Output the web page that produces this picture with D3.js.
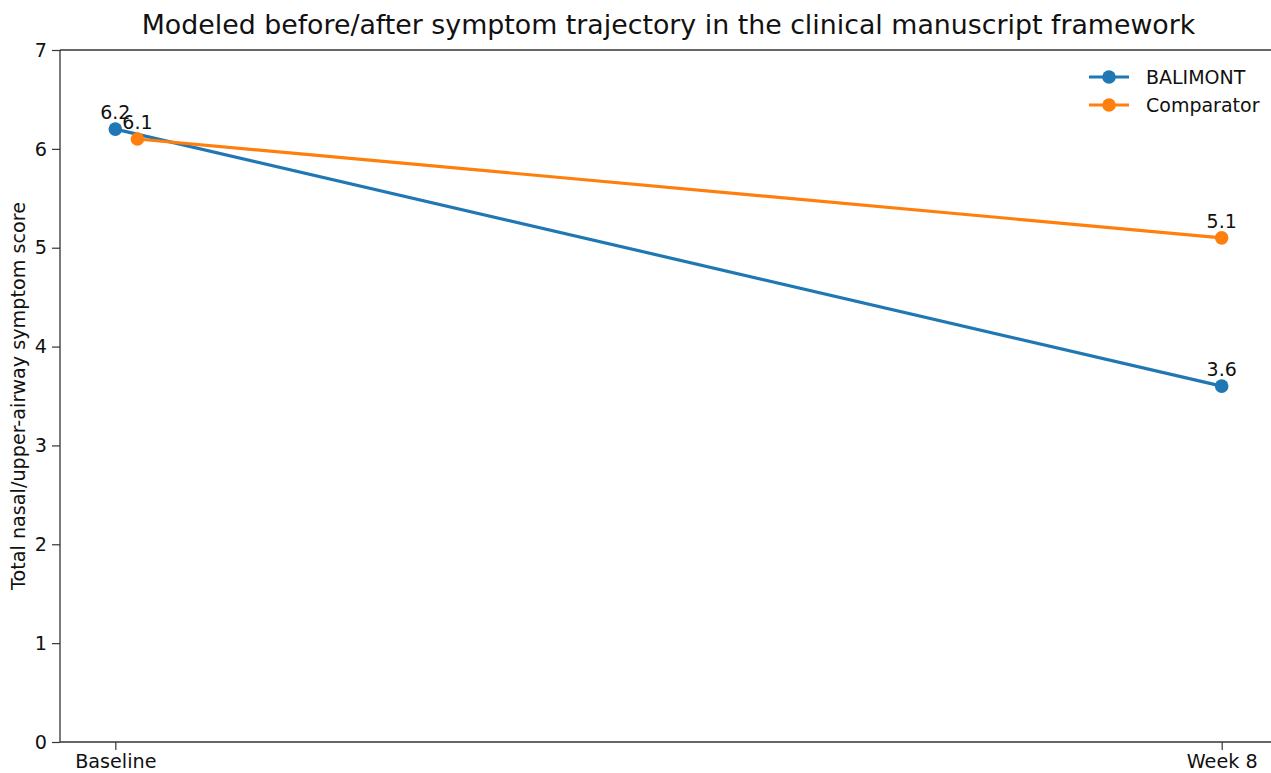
<!DOCTYPE html>
<html>
<head>
<meta charset="utf-8">
<script src="https://cdn.jsdelivr.net/npm/d3@7"></script>
<style>
  body { margin: 0; background: #fff; }
  svg { display: block; font-family: "DejaVu Sans", sans-serif; }
</style>
</head>
<body>
<div id="chart"></div>
<script>
// chart data
var categories = ['Baseline', 'Week 8'];
var seriesNames = ['BALIMONT', 'Comparator'];
var seriesColors = ['#1f77b4', '#ff7f0e'];
var balimontValues = [6.2, 3.6];
var comparatorValues = [6.1, 5.1];
// comparator baseline is nudged a little right so the dots do not overlap
var xOffsets = [[0, 0], [0.02, 0]];
var yTicks = [0, 1, 2, 3, 4, 5, 6, 7];

var W = 1271, H = 773;
var margin = { top: 50, right: -6, bottom: 31, left: 60 };
var width = W - margin.left - margin.right;
var height = H - margin.top - margin.bottom;

var svg = d3.select('#chart')
  .append('svg')
  .attr('width', W)
  .attr('height', H);

var g = svg.append('g')
  .attr('transform', 'translate(' + margin.left + ',' + margin.top + ')');

var x = d3.scaleLinear().domain([-0.05, 1.05]).range([0, width]);
var y = d3.scaleLinear().domain([0, 7]).range([height, 0]);

var series = [balimontValues, comparatorValues].map(function(values, i) {
  return {
    name: seriesNames[i],
    color: seriesColors[i],
    points: values.map(function(v, j) {
      return { x: j + xOffsets[i][j], y: v };
    })
  };
});

// axes
var yAxis = g.append('g')
  .call(d3.axisLeft(y).tickValues(yTicks).tickFormat(d3.format('d')).tickSize(8).tickPadding(5));

var xAxis = g.append('g')
  .attr('transform', 'translate(0,' + height + ')')
  .call(d3.axisBottom(x).tickValues([0, 1]).tickFormat(function(d) { return categories[d]; }).tickSize(8).tickPadding(3));

[yAxis, xAxis].forEach(function(ax) {
  ax.attr('font-family', '"DejaVu Sans", sans-serif').attr('font-size', 19.2);
  ax.select('.domain').remove();
  ax.selectAll('.tick line').attr('stroke', '#333').attr('stroke-width', 1.2);
  ax.selectAll('.tick text').attr('fill', '#111');
});
xAxis.selectAll('.tick text').attr('dy', '0.8em');

// spines
g.append('line').attr('x1', 0).attr('x2', 0).attr('y1', 0).attr('y2', height)
  .attr('stroke', '#333').attr('stroke-width', 1.3);
g.append('line').attr('x1', 0).attr('x2', width).attr('y1', height).attr('y2', height)
  .attr('stroke', '#333').attr('stroke-width', 1.3);
g.append('line').attr('x1', 0).attr('x2', width).attr('y1', 0).attr('y2', 0)
  .attr('stroke', '#333').attr('stroke-width', 1.3);

var line = d3.line()
  .x(function(d) { return x(d.x); })
  .y(function(d) { return y(d.y); });

series.forEach(function(s) {
  g.append('path')
    .datum(s.points)
    .attr('d', line)
    .attr('fill', 'none')
    .attr('stroke', s.color)
    .attr('stroke-width', 3.2);

  g.selectAll(null)
    .data(s.points)
    .enter()
    .append('circle')
    .attr('cx', function(d) { return x(d.x); })
    .attr('cy', function(d) { return y(d.y); })
    .attr('r', 6.8)
    .attr('fill', s.color);
});

// value labels on top of everything
series.forEach(function(s) {
  g.selectAll(null)
    .data(s.points)
    .enter()
    .append('text')
    .attr('x', function(d) { return x(d.x); })
    .attr('y', function(d) { return y(d.y) - 10; })
    .attr('text-anchor', 'middle')
    .attr('fill', '#111')
    .style('font-size', '19px')
    .text(function(d) { return d.y.toFixed(1); });
});

// title and y label
svg.append('text')
  .attr('x', margin.left + width / 2)
  .attr('y', 34)
  .attr('text-anchor', 'middle')
  .attr('fill', '#111')
  .style('font-size', '26.8px')
  .text('Modeled before/after symptom trajectory in the clinical manuscript framework');

svg.append('text')
  .attr('transform', 'translate(25,' + (margin.top + height / 2) + ') rotate(-90)')
  .attr('text-anchor', 'middle')
  .attr('fill', '#111')
  .style('font-size', '19.2px')
  .text('Total nasal/upper-airway symptom score');

// legend
var legend = svg.append('g').attr('transform', 'translate(1089,77)');
series.forEach(function(s, i) {
  var row = legend.append('g').attr('transform', 'translate(0,' + (i * 28) + ')');
  row.append('line').attr('x1', 0).attr('x2', 40)
    .attr('stroke', s.color).attr('stroke-width', 3.2);
  row.append('circle').attr('cx', 20).attr('r', 6.8).attr('fill', s.color);
  row.append('text').attr('x', 57).attr('dy', '0.35em')
    .attr('fill', '#111')
    .style('font-size', '19px')
    .text(s.name);
});
</script>
</body>
</html>
